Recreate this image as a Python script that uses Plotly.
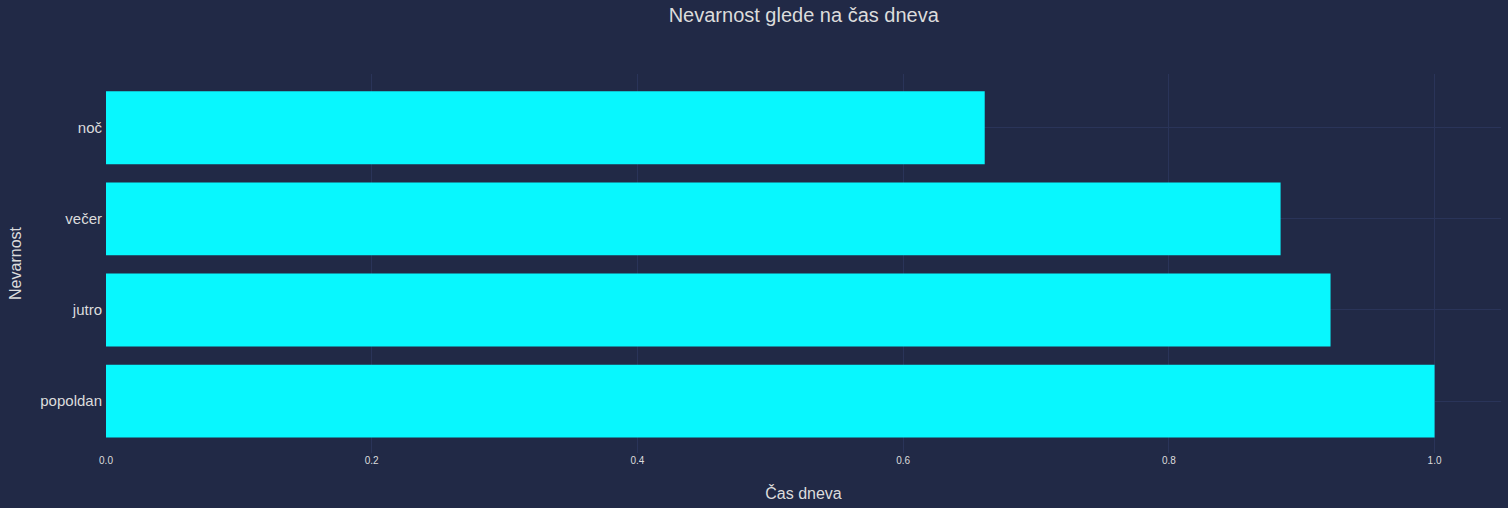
import plotly.graph_objects as go

categories = ["popoldan", "jutro", "večer", "noč"]
values = [1.0, 0.9217, 0.8841, 0.6614]
x_ticks = [0.0, 0.2, 0.4, 0.6, 0.8, 1.0]
x_tick_labels = ["0.0", "0.2", "0.4", "0.6", "0.8", "1.0"]

BG = "#212946"
GRID = "#2A3459"
BAR = "#08F7FE"
TEXT = "#dcdcdc"
FONT = "Liberation Sans, Arial, sans-serif"

fig = go.Figure(
    go.Bar(
        x=values,
        y=categories,
        orientation="h",
        marker=dict(color=BAR, line=dict(width=0)),
    )
)

fig.update_layout(
    width=1508,
    height=508,
    paper_bgcolor=BG,
    plot_bgcolor=BG,
    margin=dict(l=106, r=7, t=74, b=55),
    bargap=0.2,
    showlegend=False,
    font=dict(family=FONT, color=TEXT),
    title=dict(
        text="Nevarnost glede na čas dneva",
        x=0.533,
        xanchor="center",
        y=0.97,
        yanchor="middle",
        font=dict(size=20, color=TEXT, family=FONT),
    ),
)

fig.update_xaxes(
    range=[0, 1.05],
    tickvals=x_ticks,
    ticktext=x_tick_labels,
    tickfont=dict(size=10, color=TEXT),
    showgrid=True,
    gridcolor=GRID,
    gridwidth=1,
    zeroline=False,
    showline=False,
    ticks="",
    title=dict(text="Čas dneva", font=dict(size=16, color=TEXT), standoff=22),
)

fig.update_yaxes(
    categoryorder="array",
    categoryarray=categories,
    range=[-0.57, 3.59],
    tickfont=dict(size=15, color=TEXT),
    showgrid=True,
    gridcolor=GRID,
    gridwidth=1,
    zeroline=False,
    showline=False,
    ticks="",
    ticklabelstandoff=3,
    title=dict(text="Nevarnost", font=dict(size=16, color=TEXT), standoff=14),
)

fig.write_html("out.html")
